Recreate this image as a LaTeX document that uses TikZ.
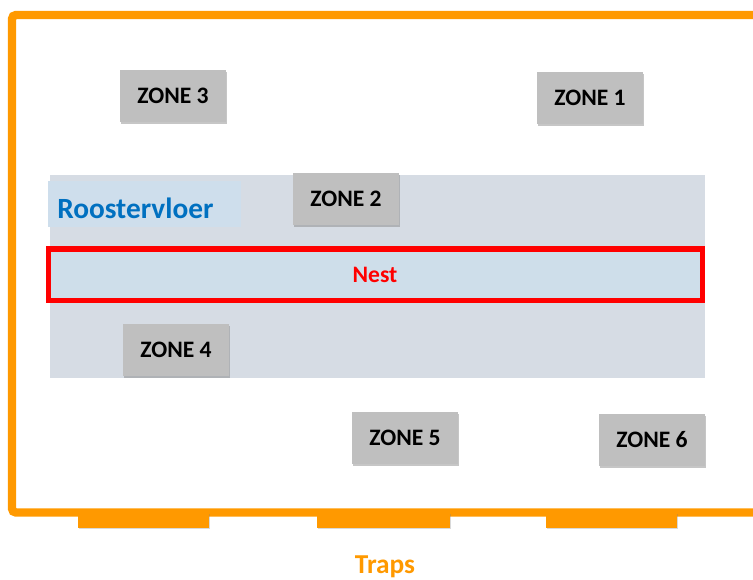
\documentclass[tikz,border=0pt]{standalone}
\usepackage{fontspec}
\setmainfont{Carlito}
\usetikzlibrary{shadows}

\definecolor{trapsorange}{RGB}{255,153,0}
\definecolor{zonegray}{RGB}{191,191,191}
\definecolor{gridblue}{RGB}{214,220,228}
\definecolor{labelblue}{RGB}{206,222,236}
\definecolor{nestblue}{RGB}{206,222,234}
\definecolor{textblue}{RGB}{0,112,192}

\begin{document}
\begin{tikzpicture}[x=0.75pt, y=-0.75pt]

% Define styles
\tikzstyle{zone} = [rectangle, minimum width=79.5pt, minimum height=39pt, inner sep=0pt, fill=zonegray, text=black, font=\fontsize{17.7}{21}\selectfont\bfseries, drop shadow={shadow xshift=0.6pt, shadow yshift=-1.4pt, opacity=0.45}]
\tikzstyle{trap} = [fill=trapsorange, drop shadow={shadow xshift=0.4pt, shadow yshift=-0.9pt, opacity=0.3}]
\tikzstyle{wall} = [draw=trapsorange, line width=6.3pt, rounded corners=3pt]
\tikzstyle{label} = [inner sep=0pt, font=\fontsize{17.7}{21}\selectfont\bfseries]

\useasboundingbox (0,0) rectangle (753,579);

% Stal
\draw [wall] (753,15) -- (12,15) -- (12,512.5) -- (753,512.5);

% Traps
\fill [trap] (78,513) rectangle (209,528);
\fill [trap] (317,513) rectangle (450,528);
\fill [trap] (546,513) rectangle (677,528);
\node (traps) [label, text=trapsorange, font=\fontsize{20.5}{24}\selectfont\bfseries] at (385,567) {Traps};

% Roostervloer
\fill [gridblue] (50,175) rectangle (705,378);
\fill [labelblue] (48,181) rectangle (241,227);
\node (rooster) [label, anchor=west, text=textblue, font=\fontsize{22}{26}\selectfont\bfseries] at (57,208) {Roostervloer};

% Nest
\draw [draw=red, line width=3.8pt, fill=nestblue] (48.5,249) rectangle (702.5,300.5);
\node (nest) [label, text=red] at (375,275) {Nest};

% Zones
\node (zone3) [zone] at (173,96) {ZONE 3};
\node (zone1) [zone] at (590,98) {ZONE 1};
\node (zone2) [zone] at (346,199) {ZONE 2};
\node (zone4) [zone] at (176,350) {ZONE 4};
\node (zone5) [zone] at (405,438) {ZONE 5};
\node (zone6) [zone] at (652,440) {ZONE 6};

\end{tikzpicture}
\end{document}
